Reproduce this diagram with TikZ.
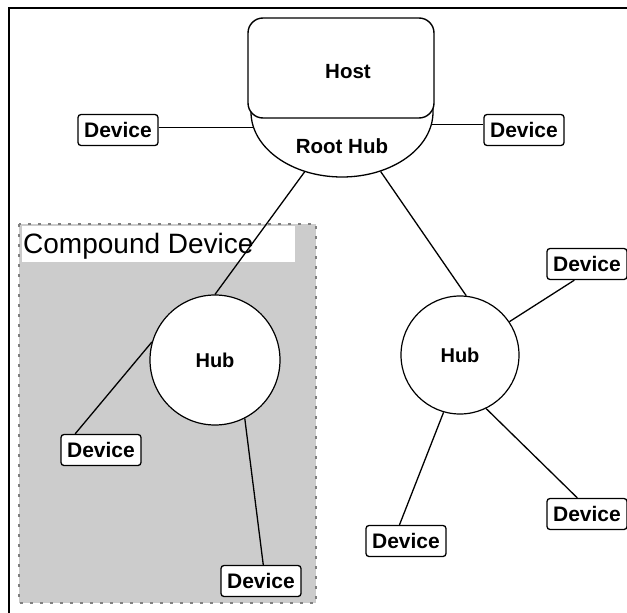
\documentclass[tikz,border=0pt]{standalone}
\usepackage{fontspec}
\setmainfont{Liberation Sans}
\usetikzlibrary{shapes.geometric}
\definecolor{cdgray}{HTML}{CCCCCC}
\begin{document}
\begin{tikzpicture}[x=1pt,y=-1pt,
  dev/.style={draw, line width=1.3pt, rounded corners=3pt, fill=white, minimum width=80pt, minimum height=31pt, inner sep=0pt, font=\fontsize{21}{23}\selectfont\bfseries},
  hubc/.style={draw, circle, line width=1.2pt, fill=white, inner sep=0pt, font=\fontsize{20}{22}\selectfont\bfseries},
  conn/.style={line width=1.3pt},
  lbl/.style={inner sep=0pt, font=\fontsize{20.5}{22}\selectfont\bfseries}]
\useasboundingbox (0,0) rectangle (627,613);
% frame
\draw[line width=2.4pt] (8.7,613) -- (8.7,7.8) -- (627,7.8);
% compound device area
\path[fill=cdgray, draw=gray, line width=1.4pt, dash pattern=on 3pt off 7pt] (19,224) rectangle (316,603);
\fill[white] (22,226) rectangle (295,262);
\node[anchor=west, inner sep=0pt, font=\fontsize{28}{30}\selectfont] (cdlabel) at (23,246) {Compound Device};
% root hub and host
\node[draw, ellipse, line width=1.3pt, minimum width=182pt, minimum height=130pt, inner sep=0pt] (rh) at (342,112) {};
\node[draw, fill=white, line width=1.4pt, rounded corners=15pt, minimum width=186pt, minimum height=100pt] (host) at (341,68) {};
\node[lbl] (hosttext) at (348,72) {Host};
\node[lbl] (rhtext) at (342,146) {Root Hub};
% hubs
\node[hubc, minimum size=130pt] (hub1) at (215,360) {Hub};
\node[hubc, minimum size=118pt] (hub2) at (460,355) {Hub};
% devices
\node[dev] (dL) at (118,130) {Device};
\node[dev] (dR) at (524,130) {Device};
\node[dev] (dA) at (101,450) {Device};
\node[dev] (dB) at (261,581) {Device};
\node[dev] (dTR) at (587,264) {Device};
\node[dev] (dBR) at (587,514) {Device};
\node[dev] (dBM) at (406,541) {Device};
% connectors
\draw[conn] (dL.east |- rh.190) -- (rh.190);
\draw[conn] (rh.-8) -- (rh.-8 -| dR.west);
\draw[conn] (rh.-122) -- (hub1.north);
\draw[conn] (rh.-57) -- (hub2.84);
\draw[conn] (hub1.164) -- (dA.148);
\draw[conn] (hub1.-63) -- (dB.82);
\draw[conn] (hub2.34) -- (dTR.-128);
\draw[conn] (hub2.-64) -- (dBR.121);
\draw[conn] (hub2.-106) -- (dBM.112);
\end{tikzpicture}
\end{document}
